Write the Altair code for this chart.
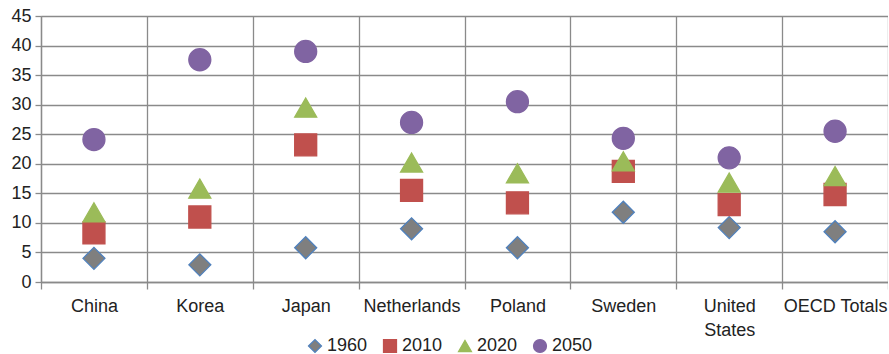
import altair as alt
import pandas as pd

countries = ["China", "Korea", "Japan", "Netherlands", "Poland", "Sweden",
             "United States", "OECD Totals"]
years = ["1960", "2010", "2020", "2050"]
v1960 = [4.0, 2.9, 5.8, 9.0, 5.8, 11.8, 9.2, 8.5]
v2010 = [8.3, 11.0, 23.2, 15.5, 13.4, 18.7, 13.1, 14.8]
v2020 = [11.8, 15.8, 29.5, 20.2, 18.4, 20.4, 16.8, 17.9]
v2050 = [24.1, 37.6, 39.0, 27.0, 30.5, 24.3, 21.0, 25.5]

rows = []
for year, vals in zip(years, [v1960, v2010, v2020, v2050]):
    for c, v in zip(countries, vals):
        rows.append({"Country": c, "Year": year, "Value": v})
df = pd.DataFrame(rows)

FONT = "Liberation Sans"
GRID = "#8a8a8a"
TEXT = "#222222"

fills = ["#7f7f7f", "#c0504d", "#9bbb59", "#8064a2"]
strokes = ["#4f81bd", "#c0504d", "#9bbb59", "#8064a2"]
shapes = ["diamond", "square", "triangle-up", "circle"]

legend = alt.Legend(
    title=None, orient="none", direction="horizontal",
    legendX=265, legendY=321, symbolSize=170, symbolStrokeWidth=1.2,
    labelFont=FONT, labelFontSize=18, labelColor=TEXT,
    labelOffset=3, columnPadding=13, padding=0,
)

chart = alt.Chart(df).mark_point(filled=True, opacity=1, size=484, strokeWidth=1.3).encode(
    x=alt.X("Country:N", sort=countries, title=None,
            scale=alt.Scale(paddingInner=0, paddingOuter=0),
            axis=alt.Axis(tickBand="extent", grid=True, gridColor=GRID, gridWidth=1.3,
                          domainColor=GRID, domainWidth=1.3,
                          tickColor=GRID, tickSize=7, tickWidth=1.3,
                          labelAngle=0, labelPadding=8,
                          labelFont=FONT, labelFontSize=18, labelColor=TEXT,
                          labelBaseline="top", labelLineHeight=24,
                          labelExpr="datum.label == 'United States' ? ['United', 'States'] : datum.label")),
    y=alt.Y("Value:Q", title=None,
            scale=alt.Scale(domain=[0, 45], nice=False),
            axis=alt.Axis(values=list(range(0, 50, 5)), grid=True, gridColor=GRID, gridWidth=1.3,
                          domainColor=GRID, domainWidth=1.3,
                          tickColor=GRID, tickSize=6, tickWidth=1.3,
                          labelFont=FONT, labelFontSize=18, labelColor=TEXT,
                          labelPadding=4)),
    fill=alt.Fill("Year:N", scale=alt.Scale(domain=years, range=fills), legend=legend),
    stroke=alt.Stroke("Year:N", scale=alt.Scale(domain=years, range=strokes), legend=legend),
    shape=alt.Shape("Year:N", scale=alt.Scale(domain=years, range=shapes), legend=legend),
    order=alt.Order("Year:N"),
).properties(
    width=847, height=266,
    autosize=alt.AutoSizeParams(type="none"),
    padding={"left": 41, "top": 16, "right": 0, "bottom": 72},
).configure_view(
    stroke=GRID, strokeWidth=1.3
).configure(background="white")

chart.save("out.html", embed_options={"renderer": "svg", "actions": False})
